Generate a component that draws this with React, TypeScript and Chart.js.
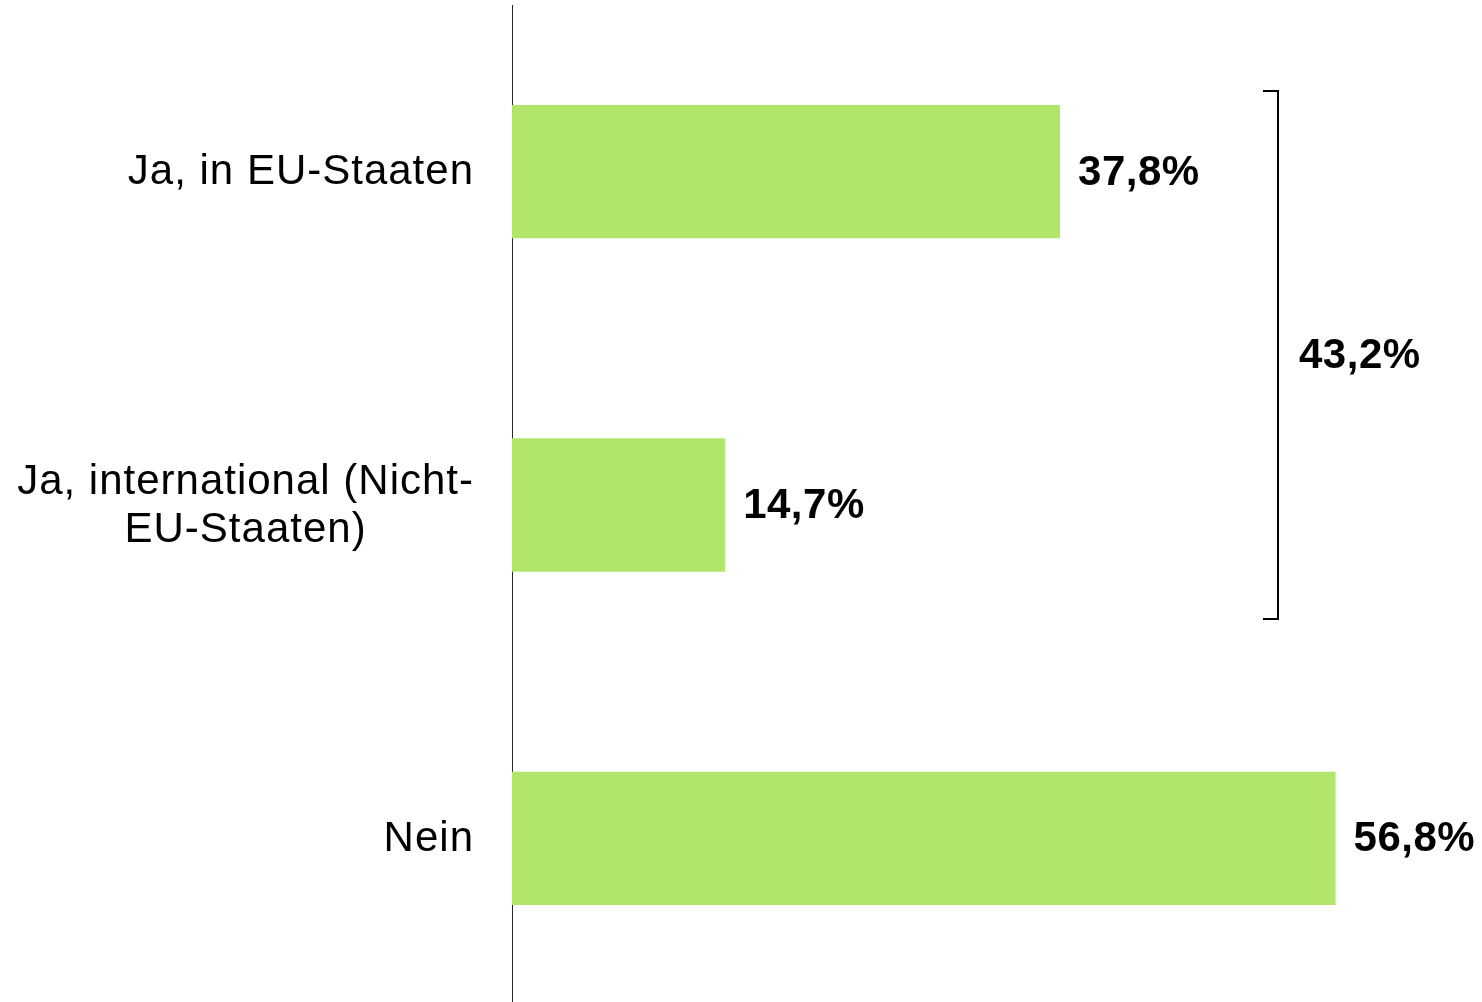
import React, { useEffect, useRef } from "react";
import { Chart, registerables } from "chart.js";

Chart.register(...registerables);

// ---- data ----
const categoryLines: string[][] = [
  ["Ja, in EU-Staaten"],
  ["Ja, international (Nicht-", "EU-Staaten)"],
  ["Nein"],
];
const categories = categoryLines.map((l) => l.join(" "));
const values: number[] = [37.8, 14.7, 56.8];
const valueLabels: string[] = ["37,8%", "14,7%", "56,8%"];
const bracketCategories: number[] = [0, 1];
const bracketLabel = "43,2%";
const xMax = 66.9;

const FONT = "'Liberation Sans', Arial, Helvetica, sans-serif";
const BAR_COLOR = "rgb(178, 230, 106)";

const labelsPlugin = {
  id: "customLabels",
  afterDatasetsDraw(chart: any) {
    const ctx: any = chart.ctx;
    const yScale = chart.scales.y;
    const xScale = chart.scales.x;
    const area = chart.chartArea;
    ctx.save();
    ctx.fillStyle = "#000000";
    ctx.textBaseline = "middle";

    // category labels (block right-aligned, lines centered within the block)
    ctx.font = `42px ${FONT}`;
    ctx.letterSpacing = "1px";
    categoryLines.forEach((lines, i) => {
      const cy = yScale.getPixelForValue(i);
      const w = Math.max(...lines.map((l) => ctx.measureText(l).width));
      const right = area.left - 38;
      const cx = right - w / 2;
      const lh = 48;
      ctx.textAlign = "center";
      lines.forEach((l, k) => {
        ctx.fillText(l, cx, cy + (k - (lines.length - 1) / 2) * lh + 1);
      });
    });

    // value labels
    ctx.font = `bold 42px ${FONT}`;
    ctx.letterSpacing = "0.5px";
    ctx.textAlign = "left";
    const meta = chart.getDatasetMeta(0);
    meta.data.forEach((bar: any, i: number) => {
      ctx.fillText(valueLabels[i], bar.x + 18, bar.y + 1.5);
    });

    // bracket
    const top = Math.round(yScale.getPixelForValue(bracketCategories[0] - 0.2425));
    const bottom = Math.round(yScale.getPixelForValue(bracketCategories[1] + 0.342));
    const bx = Math.round(xScale.getPixelForValue(52.8));
    ctx.strokeStyle = "#000000";
    ctx.lineWidth = 2;
    ctx.lineJoin = "miter";
    ctx.beginPath();
    ctx.moveTo(bx - 15, top);
    ctx.lineTo(bx, top);
    ctx.lineTo(bx, bottom);
    ctx.lineTo(bx - 15, bottom);
    ctx.stroke();
    ctx.fillText(bracketLabel, bx + 21, (top + bottom) / 2 + 1);

    ctx.restore();
  },
};

export default function App() {
  const canvasRef = useRef<HTMLCanvasElement | null>(null);

  useEffect(() => {
    if (!canvasRef.current) return;
    const chart = new Chart(canvasRef.current, {
      type: "bar",
      data: {
        labels: categories,
        datasets: [
          {
            data: values,
            backgroundColor: BAR_COLOR,
            borderWidth: 0,
            barPercentage: 0.4,
            categoryPercentage: 1,
          },
        ],
      },
      options: {
        indexAxis: "y",
        responsive: false,
        animation: false,
        maintainAspectRatio: false,
        layout: { padding: { top: 5, right: 0, bottom: 0, left: 0 } },
        plugins: {
          legend: { display: false },
          tooltip: { enabled: false },
        },
        scales: {
          x: {
            display: false,
            min: 0,
            max: xMax,
          },
          y: {
            display: true,
            grid: { display: false },
            ticks: { display: false },
            border: { display: true, color: "#262626", width: 1 },
            afterFit: (scale: any) => {
              scale.width = 512;
            },
          },
        },
      },
      plugins: [labelsPlugin],
    });
    return () => chart.destroy();
  }, []);

  return (
    <div
      style={{
        position: "absolute",
        left: 0,
        top: 0,
        width: 1482,
        height: 1002,
        overflow: "hidden",
        background: "#ffffff",
      }}
    >
      <canvas
        ref={canvasRef}
        width={1482}
        height={1005}
        style={{ width: 1482, height: 1005, display: "block" }}
      />
    </div>
  );
}
